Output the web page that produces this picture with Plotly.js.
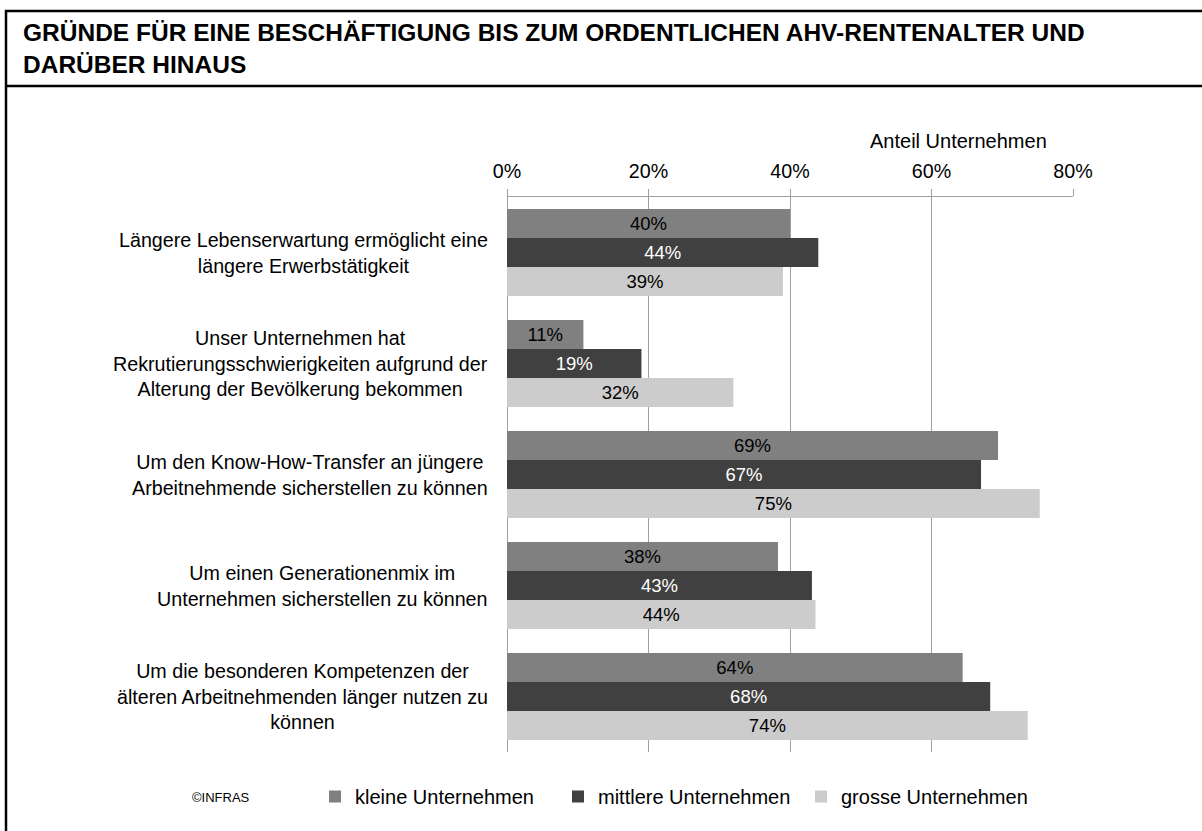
<!DOCTYPE html>
<html>
<head>
<meta charset="utf-8">
<script src="https://cdn.plot.ly/plotly-3.0.1.min.js"></script>
<style>
  html, body { margin: 0; padding: 0; background: #fff; }
  #chart { width: 1202px; height: 831px; }
</style>
</head>
<body>
<div id="chart"></div>
<script>
// ---- data ----
const categories = [
  "Längere Lebenserwartung ermöglicht eine<br>längere Erwerbstätigkeit",
  "Unser Unternehmen hat<br>Rekrutierungsschwierigkeiten aufgrund der<br>Alterung der Bevölkerung bekommen",
  "Um den Know-How-Transfer an jüngere<br>Arbeitnehmende sicherstellen zu können",
  "Um einen Generationenmix im<br>Unternehmen sicherstellen zu können",
  "Um die besonderen Kompetenzen der<br>älteren Arbeitnehmenden länger nutzen zu<br>können"
];
const seriesNames = ["kleine Unternehmen", "mittlere Unternehmen", "grosse Unternehmen"];
const kleine   = [40.0, 10.8, 69.4, 38.3, 64.4];
const mittlere = [44.0, 19.0, 67.0, 43.1, 68.3];
const grosse   = [39.0, 32.0, 75.3, 43.6, 73.6];
const seriesColors = ["#808080", "#404040", "#cccccc"];
const labelColors = ["#000000", "#ffffff", "#000000"];
const xTicks = [0, 20, 40, 60, 80];
const xTickText = ["0%", "20%", "40%", "60%", "80%"];
const chartTitle = "GRÜNDE FÜR EINE BESCHÄFTIGUNG BIS ZUM ORDENTLICHEN AHV-RENTENALTER UND<br>DARÜBER HINAUS";
const axisTitle = "Anteil Unternehmen";
const sourceNote = "©INFRAS";

// ---- layout helpers (pixel -> paper) ----
const W = 1202, H = 831;
const M = { l: 507, r: 129, t: 197, b: 79 };
const pw = W - M.l - M.r, ph = H - M.t - M.b;
const px = v => (v - M.l) / pw;
const py = v => (H - M.b - v) / ph;

const FONT = "Liberation Sans, Arial, sans-serif";
const LABEL_SIZE = 19.7;
const allValues = [kleine, mittlere, grosse];

const traces = allValues.map((vals, i) => ({
  type: "bar",
  orientation: "h",
  name: seriesNames[i],
  y: categories,
  x: vals,
  marker: { color: seriesColors[i], line: { width: 0 } },
  text: vals.map(v => Math.round(v) + "%"),
  texttemplate: "%{text}",
  textposition: "inside",
  insidetextanchor: "middle",
  textangle: 0,
  constraintext: "none",
  textfont: { family: FONT, size: 18.5, color: labelColors[i] },
  hoverinfo: "skip"
}));

const annotations = categories.map(c => ({
  xref: "paper", yref: "y",
  x: 0, y: c, xshift: -17,
  xanchor: "right", yanchor: "middle",
  align: "center",
  text: c,
  showarrow: false,
  font: { family: FONT, size: LABEL_SIZE, color: "#000" }
}));
annotations.push({
  xref: "paper", yref: "paper",
  x: px(21), y: py(17),
  xanchor: "left", yanchor: "top",
  align: "left",
  text: "<b>" + chartTitle.replace("<br>", "</b><br><b>") + "</b>",
  showarrow: false,
  font: { family: FONT, size: 24.5, color: "#000" }
});
annotations.push({
  xref: "paper", yref: "paper",
  x: px(958), y: py(141),
  xanchor: "center", yanchor: "middle",
  text: axisTitle, showarrow: false,
  font: { family: FONT, size: 20, color: "#000" }
});
annotations.push({
  xref: "paper", yref: "paper",
  x: px(190), y: py(797),
  xanchor: "left", yanchor: "middle",
  text: sourceNote, showarrow: false,
  font: { family: "Liberation Sans Narrow, Arial Narrow, Liberation Sans, Arial, sans-serif", size: 13, color: "#000" }
});

const layout = {
  width: W, height: H,
  margin: M,
  paper_bgcolor: "#fff",
  plot_bgcolor: "#fff",
  font: { family: FONT, color: "#000" },
  barmode: "group",
  bargap: 0.216,
  bargroupgap: 0,
  showlegend: true,
  legend: {
    orientation: "h",
    x: px(315), xanchor: "left",
    y: py(777), yanchor: "top",
    font: { family: FONT, size: 20, color: "#000" },
    traceorder: "normal",
    itemwidth: 30,
    entrywidth: 198,
    entrywidthmode: "pixels",
    bgcolor: "rgba(0,0,0,0)"
  },
  xaxis: {
    side: "top",
    range: [0, 80],
    tickvals: xTicks,
    ticktext: xTickText,
    ticks: "outside",
    ticklen: 7,
    tickcolor: "#a0a0a0",
    ticklabelstandoff: 3,
    showline: true,
    linecolor: "#a0a0a0",
    linewidth: 1,
    showgrid: true,
    gridcolor: "#a0a0a0",
    gridwidth: 1,
    zeroline: true,
    zerolinecolor: "#a0a0a0",
    zerolinewidth: 1,
    tickfont: { family: FONT, size: LABEL_SIZE, color: "#000" },
    fixedrange: true
  },
  yaxis: {
    type: "category",
    autorange: "reversed",
    showticklabels: false,
    ticks: "",
    showgrid: false,
    showline: false,
    zeroline: false,
    fixedrange: true
  },
  annotations: annotations,
  shapes: [
    { type: "rect", xref: "paper", yref: "paper",
      x0: px(6), x1: px(1215), y0: py(845), y1: py(11),
      line: { color: "#000", width: 2.5 }, fillcolor: "rgba(0,0,0,0)", layer: "above" },
    { type: "line", xref: "paper", yref: "paper",
      x0: px(6), x1: px(1215), y0: py(86), y1: py(86),
      line: { color: "#000", width: 2.5 }, layer: "above" }
  ]
};

Plotly.newPlot("chart", traces, layout, { staticPlot: true, displayModeBar: false });
</script>
</body>
</html>
